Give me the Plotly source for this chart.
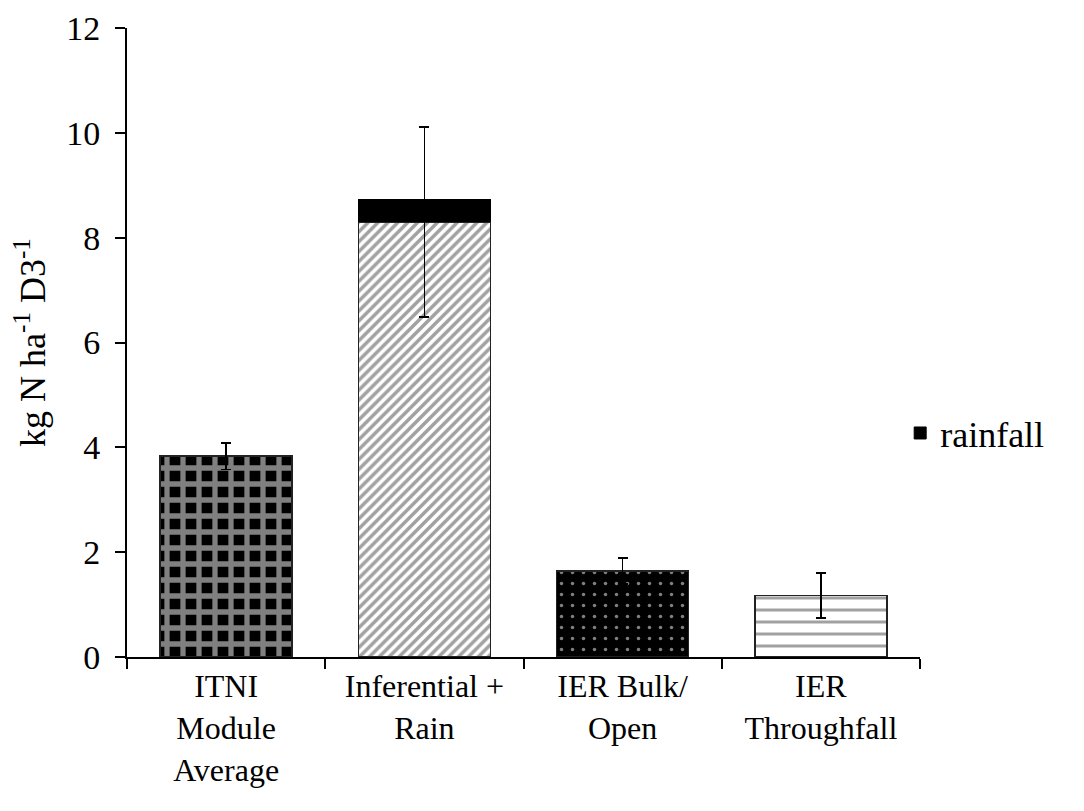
import plotly.graph_objects as go

categories = ["ITNI<br>Module<br>Average", "Inferential +<br>Rain", "IER Bulk/<br>Open", "IER<br>Throughfall"]
base_values = [3.83, 8.30, 1.64, 1.17]
base_errors = [0.25, 1.81, 0.25, 0.43]
rainfall_values = [None, 0.42, None, None]
y_ticks = [0, 2, 4, 6, 8, 10, 12]

FONT = "'Times New Roman', 'Liberation Serif', 'DejaVu Serif', serif"

fig = go.Figure()
fig.add_trace(go.Bar(
    x=categories, y=base_values, name="deposition", showlegend=False,
    marker=dict(
        color=["black", "white", "black", "white"],
        line=dict(color="#222222", width=1.5),
        pattern=dict(
            shape=["+", "/", ".", "-"],
            fgcolor=["white", "#000000", "white", "#222222"],
            bgcolor=["black", "white", "black", "white"],
            size=[16, 7, 11, 12],
            solidity=[0.55, 0.5, 0.08, 0.25],
            fillmode="overlay",
        ),
    ),
    error_y=dict(type="data", array=base_errors, visible=True, color="black", thickness=1.5, width=5),
))
fig.add_trace(go.Bar(
    x=categories, y=rainfall_values, name="rainfall",
    marker=dict(color="black", line=dict(color="black", width=1)),
))

fig.update_layout(
    barmode="stack", bargap=0.333,
    width=1084, height=811,
    margin=dict(l=119, r=172, t=20, b=162, autoexpand=False),
    plot_bgcolor="white", paper_bgcolor="white",
    font=dict(family=FONT, color="black", size=36),
    legend=dict(x=0.975, y=0.356, xanchor="left", yanchor="middle",
                font=dict(size=36, family=FONT, color="black"), bgcolor="rgba(0,0,0,0)"),
)
fig.update_yaxes(
    range=[0, 12], tickvals=y_ticks, showgrid=False, zeroline=False, automargin=False,
    showline=True, linecolor="black", linewidth=2, ticks="outside", ticklen=10, tickwidth=2,
    tickcolor="black", tickfont=dict(size=34, family=FONT, color="black"), ticklabeloverflow="allow",
    ticklabelstandoff=8,
    title=dict(text="kg N ha<sup>-1</sup> D3<sup>-1</sup>", font=dict(size=36, family=FONT, color="black"), standoff=10),
)
fig.update_xaxes(
    showgrid=False, showline=True, linecolor="black", linewidth=2, automargin=False,
    ticks="outside", tickson="boundaries", ticklen=10, tickwidth=2, tickcolor="black",
    tickfont=dict(size=32, family=FONT, color="black"), ticklabeloverflow="allow",
)

fig.write_html("out.html")
